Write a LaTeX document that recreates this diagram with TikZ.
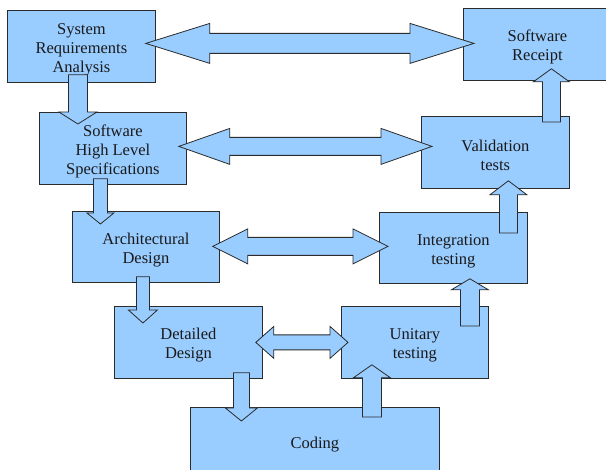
\documentclass[tikz,border=0pt]{standalone}
\usepackage{fontspec}
\setmainfont{Liberation Serif}
\usetikzlibrary{calc}

\definecolor{boxblue}{HTML}{99CCFF}
\definecolor{edgegray}{HTML}{2B2B2B}
\definecolor{textgray}{HTML}{1A1A1A}

\tikzset{
  stagebox/.style={draw=edgegray, fill=boxblue, line width=0.8pt, rectangle,
    anchor=north west, inner sep=0pt, align=center, text=textgray,
    font=\fontsize{16.5}{19}\selectfont},
  blockarrow/.style={draw=edgegray, fill=boxblue, line width=0.8pt, line join=miter}
}

% raises the first line so the text sits a little low in its box
\newcommand{\toprule}{\rule{0pt}{17.5pt}}

% block arrow with one head: tail, tip, half shaft, half head, head length
\newcommand{\onewayarrow}[5]{%
  \path ($(#2)!#5!(#1)$) coordinate (hb);
  \draw[blockarrow] ($(#1)!#3!90:(#2)$) -- ($(hb)!#3!90:(#2)$) -- ($(hb)!#4!90:(#2)$)
    -- (#2) -- ($(hb)!#4!-90:(#2)$) -- ($(hb)!#3!-90:(#2)$) -- ($(#1)!#3!-90:(#2)$) -- cycle;
}

% block arrow with two heads: end a, end b, half shaft, half head, head length
\newcommand{\twowayarrow}[5]{%
  \path ($(#1)!#5!(#2)$) coordinate (ha) ($(#2)!#5!(#1)$) coordinate (hb);
  \draw[blockarrow] (#1) -- ($(ha)!#4!90:(#2)$) -- ($(ha)!#3!90:(#2)$) -- ($(hb)!#3!90:(#2)$)
    -- ($(hb)!#4!90:(#2)$) -- (#2) -- ($(hb)!#4!-90:(#2)$) -- ($(hb)!#3!-90:(#2)$)
    -- ($(ha)!#3!-90:(#2)$) -- ($(ha)!#4!-90:(#2)$) -- cycle;
}

\begin{document}
\begin{tikzpicture}[x=1pt, y=-1pt]

% page frame
\clip (0,0) rectangle (606,470);

% ========== Left branch: specification ==========
\node[stagebox, minimum width=148, minimum height=72] (sra) at (7,10) {\toprule System\\Requirements\\Analysis};
\node[stagebox, minimum width=147, minimum height=72] (shls) at (39,112) {\toprule Software\\High Level\\Specifications};
\node[stagebox, minimum width=147, minimum height=71] (arch) at (72,211) {\toprule Architectural\\Design};
\node[stagebox, minimum width=148, minimum height=72] (det) at (114,306) {\toprule Detailed\\Design};

% ========== Bottom ==========
\node[stagebox, minimum width=249, minimum height=68] (cod) at (190,407) {\toprule Coding};

% ========== Right branch: testing ==========
\node[stagebox, minimum width=147, minimum height=72] (uni) at (341,306) {\toprule Unitary\\testing};
\node[stagebox, minimum width=148, minimum height=71] (integ) at (379,212) {\toprule Integration\\testing};
\node[stagebox, minimum width=148, minimum height=72] (valid) at (421,116) {\toprule Validation\\tests};
\node[stagebox, minimum width=148, minimum height=72] (rec) at (463,8) {\toprule Software\\Receipt};

% ========== Arrow ends ==========
% going down
\coordinate (dn1a) at ([shift={(-3.5,-8)}]sra.south);
\coordinate (dn1b) at ([shift={(-35,12)}]shls.north);
\coordinate (dn2a) at ([shift={(-12.5,-6)}]shls.south);
\coordinate (dn2b) at ([shift={(-45.5,13)}]arch.north);
\coordinate (dn3a) at ([shift={(-3,-6)}]arch.south);
\coordinate (dn3b) at ([shift={(-45.5,17)}]det.north);
\coordinate (dn4a) at ([shift={(53,-6)}]det.south);
\coordinate (dn4b) at ([shift={(-73.5,14)}]cod.north);
% going up
\coordinate (up1a) at ([shift={(57,10)}]cod.north);
\coordinate (up1b) at ([shift={(-43,-14)}]uni.south);
\coordinate (up2a) at ([shift={(55,20)}]uni.north);
\coordinate (up2b) at ([shift={(16.5,-5)}]integ.south);
\coordinate (up3a) at ([shift={(55,21)}]integ.north);
\coordinate (up3b) at ([shift={(13,-8)}]valid.south);
\coordinate (up4a) at ([shift={(56,6)}]valid.north);
\coordinate (up4b) at ([shift={(14,-12)}]rec.south);
% across
\coordinate (lr1a) at ([shift={(-10,-3)}]sra.east);
\coordinate (lr1b) at ([shift={(11,-1)}]rec.west);
\coordinate (lr2a) at ([shift={(-8,-2)}]shls.east);
\coordinate (lr2b) at ([shift={(11,-6)}]valid.west);
\coordinate (lr3a) at ([shift={(-7,-0.5)}]arch.east);
\coordinate (lr3b) at ([shift={(9,-1.5)}]integ.west);
\coordinate (lr4a) at ([shift={(-7,0)}]det.east);
\coordinate (lr4b) at ([shift={(7,0)}]uni.west);

% ========== Down arrows ==========
\onewayarrow{dn1a}{dn1b}{9.5pt}{19pt}{12pt}
\onewayarrow{dn2a}{dn2b}{7pt}{13.5pt}{11pt}
\onewayarrow{dn3a}{dn3b}{6.5pt}{14.5pt}{13pt}
\onewayarrow{dn4a}{dn4b}{8pt}{16pt}{13pt}

% ========== Up arrows ==========
\onewayarrow{up1a}{up1b}{9.5pt}{18.5pt}{13pt}
\onewayarrow{up2a}{up2b}{9.5pt}{18.5pt}{11pt}
\onewayarrow{up3a}{up3b}{9pt}{18.5pt}{14pt}
\onewayarrow{up4a}{up4b}{9pt}{18pt}{13pt}

% ========== Two-way arrows ==========
\twowayarrow{lr1a}{lr1b}{10pt}{20pt}{64pt}
\twowayarrow{lr2a}{lr2b}{9pt}{18pt}{51pt}
\twowayarrow{lr3a}{lr3b}{9pt}{17.5pt}{35pt}
\twowayarrow{lr4a}{lr4b}{7.5pt}{16pt}{18pt}

\end{tikzpicture}
\end{document}
